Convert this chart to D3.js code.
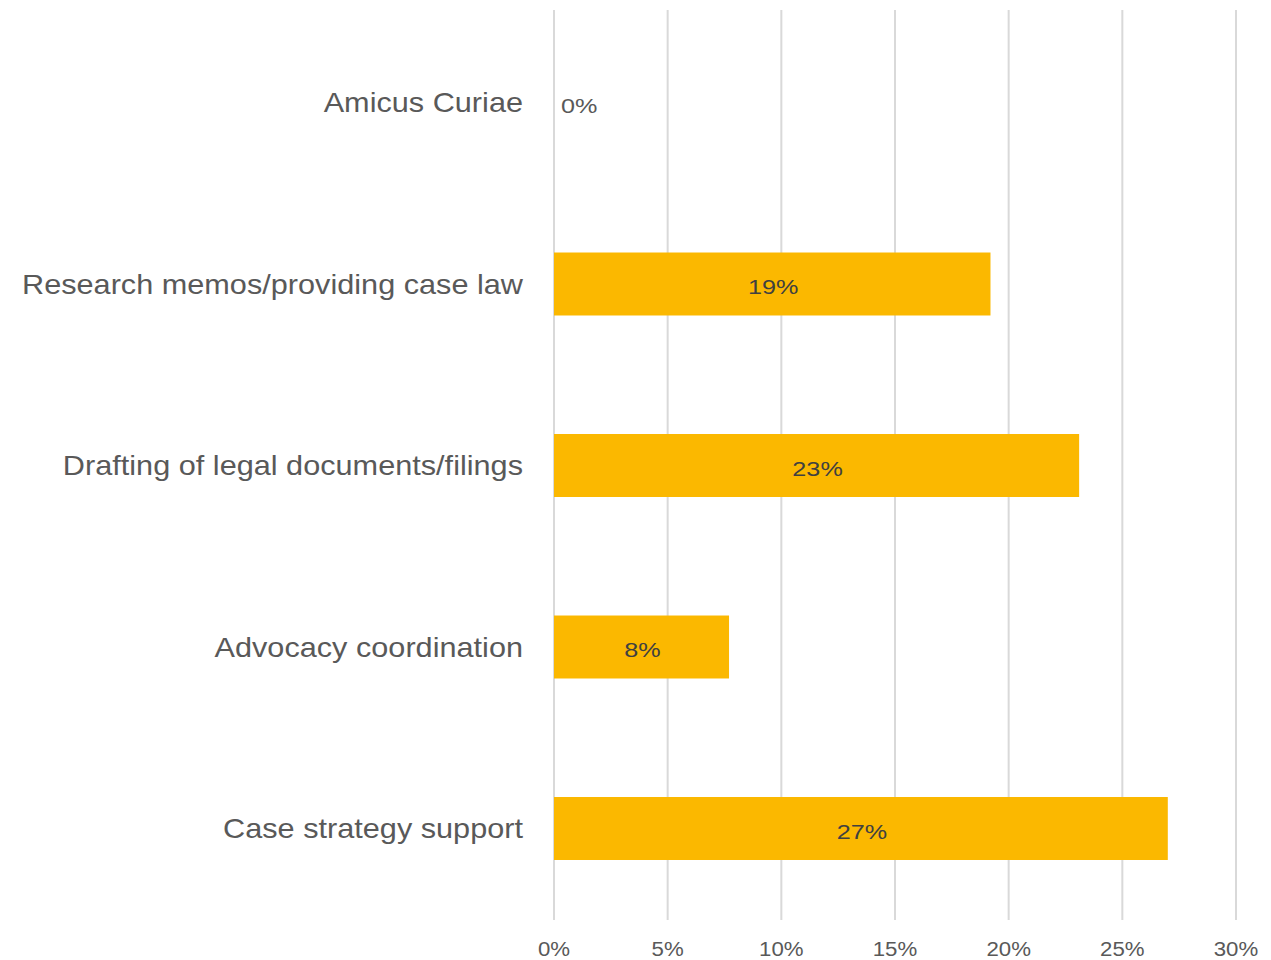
<!doctype html>
<html lang="en">
<head>
  <meta charset="utf-8">
  <title>Support types</title>
  <script src="https://d3js.org/d3.v7.min.js"></script>
  <style>
    body { margin: 0; background: #fff; }
    svg text { font-family: "Liberation Sans", Arial, Helvetica, sans-serif; }
  </style>
</head>
<body>
  <div id="chart"></div>
  <script>
    // Data ---------------------------------------------------------------------
    const categories = [
      "Amicus Curiae",
      "Research memos/providing case law",
      "Drafting of legal documents/filings",
      "Advocacy coordination",
      "Case strategy support"
    ];
    const values = [0, 0.192, 0.231, 0.077, 0.27];
    const valueLabels = ["0%", "19%", "23%", "8%", "27%"];
    const tickValues = [0, 0.05, 0.10, 0.15, 0.20, 0.25, 0.30];

    // Canvas -------------------------------------------------------------------
    const width = 1271;
    const height = 960;

    const svg = d3.select("#chart")
      .append("svg")
      .attr("width", width)
      .attr("height", height);

    const x = d3.scaleLinear()
      .domain([0, 0.30])
      .range([554, 1236]);

    const y = d3.scaleBand()
      .domain(categories)
      .range([11.75, 919.25])
      .paddingInner(0.653)
      .paddingOuter(0.3265);

    // Gridlines ----------------------------------------------------------------
    svg.append("g")
      .selectAll("line")
      .data(tickValues)
      .join("line")
      .attr("x1", d => x(d))
      .attr("x2", d => x(d))
      .attr("y1", 10)
      .attr("y2", 920)
      .style("stroke", "#d9d9d9")
      .style("stroke-width", 2);

    // Axis labels --------------------------------------------------------------
    const xAxis = svg.append("g")
      .attr("transform", "translate(0,941)")
      .call(d3.axisBottom(x)
        .tickValues(tickValues)
        .tickFormat(d3.format(".0%"))
        .tickSize(0)
        .tickPadding(0));

    xAxis.select(".domain").remove();
    xAxis.selectAll("text")
      .attr("dy", "0.71em")
      .attr("transform", "scale(1.06,1)")
      .style("font-size", "21px")
      .style("fill", "#595959");
    // keep the stretched labels centred on their ticks
    xAxis.selectAll(".tick")
      .attr("transform", d => "translate(" + x(d) + ",0)");

    // Bars ---------------------------------------------------------------------
    const rows = categories.map((c, i) => ({ cat: c, value: values[i], label: valueLabels[i] }));

    svg.append("g")
      .selectAll("rect")
      .data(rows)
      .join("rect")
      .attr("x", x(0))
      .attr("y", d => y(d.cat))
      .attr("width", d => x(d.value) - x(0))
      .attr("height", y.bandwidth())
      .style("fill", "#fbb800");

    // Value labels -------------------------------------------------------------
    svg.append("g")
      .selectAll("text")
      .data(rows)
      .join("text")
      .attr("transform", d => {
        const tx = d.value > 0 ? (x(0) + x(d.value)) / 2 + 1 : x(0) + 7;
        const ty = y(d.cat) + y.bandwidth() / 2 + 3;
        return "translate(" + tx + "," + ty + ") scale(1.2,1)";
      })
      .attr("dy", "0.35em")
      .attr("text-anchor", d => d.value > 0 ? "middle" : "start")
      .style("font-size", "21px")
      .style("fill", d => d.value > 0 ? "#404040" : "#595959")
      .text(d => d.label);

    // Category labels ----------------------------------------------------------
    svg.append("g")
      .selectAll("text")
      .data(categories)
      .join("text")
      .attr("transform", d => "translate(523," + (y(d) + y.bandwidth() / 2) + ") scale(1.095,1)")
      .attr("dy", "0.35em")
      .attr("text-anchor", "end")
      .style("font-size", "28px")
      .style("fill", "#595959")
      .text(d => d);
  </script>
</body>
</html>
